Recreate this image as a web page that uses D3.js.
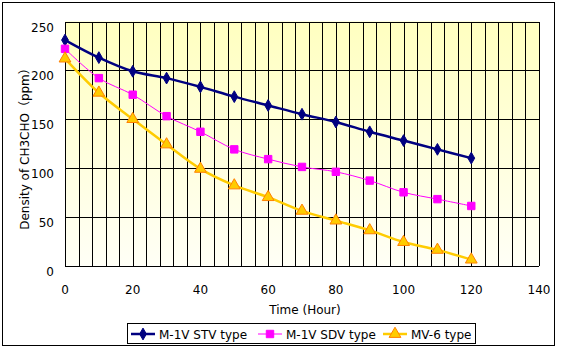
<!DOCTYPE html>
<html>
<head>
<meta charset="utf-8">
<script src="https://cdn.jsdelivr.net/npm/d3@7"></script>
<style>
  body { margin: 0; background: #fff; }
  text { font-family: "DejaVu Sans", "Noto Sans CJK JP", sans-serif; font-size: 12px; fill: #000; }
</style>
</head>
<body>
<svg id="chart" width="562" height="351"></svg>
<script>
// data
var hours = [0, 10, 20, 30, 40, 50, 60, 70, 80, 90, 100, 110, 120]
var stv = [231, 213, 199, 192, 183, 173, 164, 155, 147, 137, 128, 119, 110]
var sdv = [222, 192, 175, 153, 137, 119, 109, 101, 96, 87, 75, 68, 61]
var mv6 = [212, 177, 150, 124, 99, 82, 70, 56, 46, 36, 24, 16, 6]
var xTicks = [0, 20, 40, 60, 80, 100, 120, 140]
var yTicks = [0, 50, 100, 150, 200, 250]
var seriesNames = ["M-1V STV type", "M-1V SDV type", "MV-6 type"]

var svg = d3.select("#chart")

// frame
svg.append("rect").attr("x", 2.5).attr("y", 2.5).attr("width", 552).attr("height", 343)
   .attr("fill", "#fff").attr("stroke", "#000").attr("stroke-width", 1)

var x = d3.scaleLinear().domain([0, 140]).range([65, 539])
var y = d3.scaleLinear().domain([0, 250]).range([265.5, 21.5])

// plot background gradient
var grad = svg.append("defs").append("linearGradient").attr("id", "bg")
    .attr("x1", 0).attr("y1", 0).attr("x2", 0).attr("y2", 1)
grad.append("stop").attr("offset", "0%").attr("stop-color", "#ffffc0")
grad.append("stop").attr("offset", "100%").attr("stop-color", "#fffff6")

svg.append("rect").attr("x", x(0)).attr("y", y(250))
   .attr("width", x(140) - x(0)).attr("height", y(0) - y(250))
   .attr("fill", "url(#bg)")

// minor vertical gridlines every 4 hours
var g = svg.append("g").attr("shape-rendering", "crispEdges")
g.selectAll(".vg").data(d3.range(0, 141, 4)).join("line")
  .attr("x1", d => Math.round(x(d)) + 0.5).attr("x2", d => Math.round(x(d)) + 0.5)
  .attr("y1", y(250)).attr("y2", y(0))
  .attr("stroke", "#000")
g.selectAll(".hg").data(yTicks).join("line")
  .attr("x1", x(0)).attr("x2", x(140))
  .attr("y1", d => Math.round(y(d)) + 0.5).attr("y2", d => Math.round(y(d)) + 0.5)
  .attr("stroke", "#000")

// tick labels (excel puts them a bit under the gridline here)
svg.selectAll(".yt").data(yTicks).join("text")
  .attr("x", 54).attr("y", d => y(d) + 10).attr("text-anchor", "end")
  .text(d => d)
svg.selectAll(".xt").data(xTicks).join("text")
  .attr("x", d => x(d)).attr("y", 294).attr("text-anchor", "middle")
  .text(d => d)

svg.append("text").attr("x", 305).attr("y", 314).attr("text-anchor", "middle").text("Time (Hour)")
svg.append("text").attr("transform", "translate(29,146) rotate(-90)")
   .attr("text-anchor", "middle").text("Density of CH3CHO（ppm）")

// series
var series = [
  {name: seriesNames[0], vals: stv, color: "#000080", width: 2.5, marker: "diamond", fill: "#000080", stroke: "#000080", size: 40},
  {name: seriesNames[1], vals: sdv, color: "#ff00ff", width: 1, marker: "square", fill: "#ff00ff", stroke: "#ff00ff", size: 55},
  {name: seriesNames[2], vals: mv6, color: "#ffcc00", width: 2.5, marker: "triangle", fill: "#ffcc00", stroke: "#ff8000", size: 60}
]
var symbols = {diamond: d3.symbolDiamond, square: d3.symbolSquare, triangle: d3.symbolTriangle}

var line = d3.line().x(d => x(d[0])).y(d => y(d[1])).curve(d3.curveCatmullRom)

series.forEach(function(s) {
  var pts = hours.map((h, i) => [h, s.vals[i]])
  svg.append("path").datum(pts).attr("d", line)
     .attr("fill", "none").attr("stroke", s.color).attr("stroke-width", s.width)
  svg.selectAll(null).data(pts).join("path")
     .attr("transform", d => "translate(" + x(d[0]) + "," + y(d[1]) + ")")
     .attr("d", d3.symbol().type(symbols[s.marker]).size(s.size))
     .attr("fill", s.fill).attr("stroke", s.stroke).attr("stroke-width", 1)
})

// legend
var lg = svg.append("g")
lg.append("rect").attr("x", 127.5).attr("y", 323.5).attr("width", 348).attr("height", 20)
  .attr("fill", "#fff").attr("stroke", "#000")
var lx = [131, 258, 383]
series.forEach(function(s, i) {
  var cy = 334
  lg.append("line").attr("x1", lx[i]).attr("x2", lx[i] + 24).attr("y1", cy).attr("y2", cy)
    .attr("stroke", s.color).attr("stroke-width", s.width)
  lg.append("path").attr("transform", "translate(" + (lx[i] + 12) + "," + cy + ")")
    .attr("d", d3.symbol().type(symbols[s.marker]).size(s.size))
    .attr("fill", s.fill).attr("stroke", s.stroke)
  lg.append("text").attr("x", lx[i] + 28).attr("y", cy + 4.5).text(s.name)
})
</script>
</body>
</html>
